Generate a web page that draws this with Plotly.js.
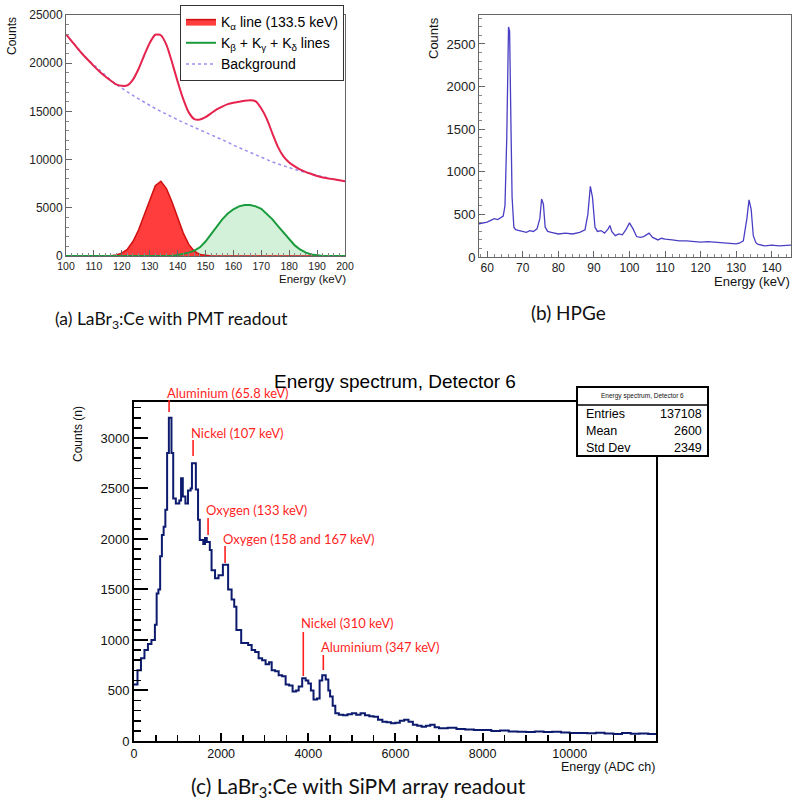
<!DOCTYPE html>
<html><head><meta charset="utf-8">
<script src="https://cdn.plot.ly/plotly-3.0.1.min.js"></script>
<style>html,body{margin:0;padding:0;background:#fff}#chart{width:796px;height:804px}</style>
</head><body><div id="chart"></div>
<script>
// ---------- Panel (a): LaBr3:Ce with PMT readout ----------
const aEnergy = [100,102,104,106,108,110,112,114,116,118,120,122,124,126,128,130,132,134,136,138,140,142,144,146,148,150,152,154,156,158,160,162,164,166,168,170,172,174,176,178,180,182,184,186,188,190,192,194,196,198,200];
const aTotal = [23000,22300,21600,20900,20300,19700,19150,18650,18200,17800,17650,17700,18300,19400,20800,22100,22950,22900,21900,20100,18100,16300,14900,14200,14150,14400,14800,15200,15500,15750,15900,16000,16100,16150,16050,15300,14200,12700,11300,10300,9700,9300,8950,8700,8500,8300,8150,8050,7950,7850,7750];
const aBackground = [23000,22300,21600,20950,20350,19800,19250,18750,18250,17800,17400,17000,16650,16300,15950,15600,15300,15000,14700,14400,14100,13850,13600,13350,13100,12850,12600,12350,12100,11800,11500,11250,11000,10750,10450,10200,9950,9750,9550,9350,9200,9000,8800,8650,8500,8350,8200,8050,7950,7850,7750];
const aKalpha = [0,0,0,0,0,0,0,0,30,100,300,700,1500,2700,4200,5900,7300,7750,7000,5600,3900,2400,1200,500,150,40,0,0,0,0,0,0,0,0,0,0,0,0,0,0,0,0,0,0,0,0,0,0,0,0,0];
const aKbeta = [0,0,0,0,0,0,0,0,0,0,0,0,0,0,0,0,0,0,0,0,100,200,350,550,900,1500,2300,3100,3800,4400,4850,5150,5300,5300,5150,4900,4400,3800,3100,2400,1700,1100,650,350,150,50,0,0,0,0,0];
const aNames = ['K<sub>α</sub> line (133.5 keV)', 'K<sub>β</sub> + K<sub>γ</sub> + K<sub>δ</sub> lines', 'Background'];

// ---------- Panel (b): HPGe ----------
const bEnergy = [57.7,59,60,61,62,63,64,64.5,65,65.5,66,66.3,66.7,67,67.5,68,69,70,71,72,73,74,74.8,75.3,75.8,76.3,77,78,80,82,84,86,87.5,88.3,89,89.6,90.3,91,92,93,94,94.5,95,96,97,98,99,100,101,102,103,104,105.5,106.5,108,109,110,112,114,116,118,120,122,124,126,128,130,131,132,133,133.6,134.2,134.8,135.5,136,138,140,142,144,145.4];
const bCounts = [390,400,410,430,450,440,470,480,600,1400,2700,2650,1500,700,350,320,310,300,290,310,300,330,450,680,620,350,300,290,270,280,270,290,320,500,830,700,350,300,310,280,330,370,300,250,270,260,320,400,330,240,230,240,280,230,200,220,210,200,190,190,180,175,180,175,165,160,155,165,190,450,670,560,250,170,150,130,140,130,135,140];

// ---------- Panel (c): LaBr3:Ce with SiPM array readout ----------
const cChannel = [0,80,160,240,320,400,480,520,560,600,640,680,720,760,800,860,900,960,1040,1080,1120,1180,1240,1300,1330,1420,1470,1510,1590,1630,1670,1740,1780,1860,1940,2040,2160,2240,2300,2350,2460,2620,2700,2780,2860,2940,3020,3100,3160,3240,3320,3400,3480,3560,3640,3720,3780,3860,3940,4000,4060,4120,4200,4260,4320,4400,4460,4500,4560,4620,4700,4800,4900,5000,5100,5200,5300,5400,5500,5600,5700,5800,5900,6000,6100,6200,6300,6400,6500,6600,6700,6800,6900,7000,7200,7400,7600,7800,8000,8200,8400,8600,8800,9000,9200,9400,9600,9800,10000,10200,10400,10600,10800,11000,11200,11400,11600,11800,12000];
const cCounts = [560,700,820,900,960,1000,1150,1460,1500,1830,2040,2120,2290,2850,3200,2850,2400,2350,2380,2600,2420,2350,2480,2500,2750,2490,2190,1990,1950,2010,1970,1890,1690,1610,1640,1745,1500,1400,1330,1100,970,950,900,880,820,800,760,780,700,690,650,640,560,550,490,500,540,620,600,570,500,410,420,600,650,610,500,440,350,275,260,255,265,275,260,275,255,245,240,210,190,185,175,180,200,210,190,160,150,140,150,160,135,125,130,120,115,110,108,100,105,95,92,90,95,88,92,85,80,78,76,82,75,70,78,72,75,70,72];
const cPeakNames = ['Aluminium (65.8 keV)','Nickel (107 keV)','Oxygen (133 keV)','Oxygen (158 and 167 keV)','Nickel (310 keV)','Aluminium (347 keV)'];
const cPeakChannels = [805,1356,1700,2090,3885,4345];
const statsLabels = ['Entries','Mean','Std Dev'];
const statsValues = ['137108','2600','2349'];
const captions = ['(a) LaBr<sub>3</sub>:Ce with PMT readout','(b) HPGe','(c) LaBr<sub>3</sub>:Ce with SiPM array readout'];

// ---------- layout helpers (positions in pixels) ----------
const W = 796, H = 804;
const PX = x => x / W;
const PY = y => 1 - y / H;
const ARIAL = 'Liberation Sans, Arial, sans-serif';
const CAL = 'Lato, Open Sans, sans-serif';
// label text y, tick top, tick bottom (px) for each peak label
const peakLabelY = [393,433,510,539,623,647];
const peakTickTop = [400,440,518,546,632,655];
const peakTickBot = [412,456,535,563,676,670];

const traces = [
  {x: aEnergy, y: aKbeta, xaxis:'x', yaxis:'y', type:'scatter', mode:'lines', fill:'tozeroy',
   fillcolor:'rgba(200,238,206,0.8)', line:{width:0, color:'#1a9b3c'}, showlegend:false, hoverinfo:'skip'},
  {x: aEnergy, y: aKalpha, xaxis:'x', yaxis:'y', type:'scatter', mode:'lines', fill:'tozeroy',
   fillcolor:'rgba(255,40,40,0.9)', line:{width:1.5, color:'#d01010'}, name:aNames[0], legendrank:1},
  {x: aEnergy, y: aKbeta, xaxis:'x', yaxis:'y', type:'scatter', mode:'lines',
   line:{width:2, color:'#1a9b3c'}, name:aNames[1], legendrank:2},
  {x: aEnergy, y: aBackground, xaxis:'x', yaxis:'y', type:'scatter', mode:'lines',
   line:{width:1.5, color:'#9a8ff0', dash:'dot'}, name:aNames[2], legendrank:3},
  {x: aEnergy, y: aTotal, xaxis:'x', yaxis:'y', type:'scatter', mode:'lines',
   line:{width:2, color:'#e5234d', shape:'spline', smoothing:0.6}, showlegend:false},
  {x: bEnergy, y: bCounts, xaxis:'x2', yaxis:'y2', type:'scatter', mode:'lines',
   line:{width:1.3, color:'#4a3fc4'}, showlegend:false},
  {x: cChannel, y: cCounts, xaxis:'x3', yaxis:'y3', type:'scatter', mode:'lines',
   line:{width:2, color:'#0d1b6e', shape:'hv'}, showlegend:false}
];

function ax(extra) {
  return Object.assign({
    showgrid:false, zeroline:false, showline:true, mirror:true, ticks:'inside',
    exponentformat:'none', tickformat:'d', fixedrange:true
  }, extra);
}

const annotations = [];
const shapes = [];

// axis titles, ROOT style
annotations.push({xref:'paper', yref:'paper', x:PX(12), y:PY(15), text:'Counts', textangle:-90,
  xanchor:'center', yanchor:'top', showarrow:false, font:{family:ARIAL, size:12, color:'#111'}});
annotations.push({xref:'paper', yref:'paper', x:PX(348), y:PY(271), text:'Energy (keV)',
  xanchor:'right', yanchor:'top', showarrow:false, font:{family:ARIAL, size:11.5, color:'#111'}});
annotations.push({xref:'paper', yref:'paper', x:PX(433), y:PY(15), text:'Counts', textangle:-90,
  xanchor:'center', yanchor:'top', showarrow:false, font:{family:ARIAL, size:13, color:'#111'}});
annotations.push({xref:'paper', yref:'paper', x:PX(792), y:PY(272), text:'Energy (keV)',
  xanchor:'right', yanchor:'top', showarrow:false, font:{family:ARIAL, size:13, color:'#111'}});
annotations.push({xref:'paper', yref:'paper', x:PX(78), y:PY(404), text:'Counts (n)', textangle:-90,
  xanchor:'center', yanchor:'top', showarrow:false, font:{family:ARIAL, size:12, color:'#111'}});
annotations.push({xref:'paper', yref:'paper', x:PX(657), y:PY(758), text:'Energy (ADC ch)',
  xanchor:'right', yanchor:'top', showarrow:false, font:{family:ARIAL, size:12.5, color:'#111'}});

// captions
annotations.push({xref:'paper', yref:'paper', x:PX(171), y:PY(320), text:captions[0],
  xanchor:'center', yanchor:'middle', showarrow:false, font:{family:CAL, size:17.5, color:'#111'}});
annotations.push({xref:'paper', yref:'paper', x:PX(568), y:PY(312), text:captions[1],
  xanchor:'center', yanchor:'middle', showarrow:false, font:{family:CAL, size:19, color:'#111'}});
annotations.push({xref:'paper', yref:'paper', x:PX(358), y:PY(787), text:captions[2],
  xanchor:'center', yanchor:'middle', showarrow:false, font:{family:CAL, size:21, color:'#111'}});

// peak labels (c)
cPeakNames.forEach((name, i) => {
  annotations.push({xref:'x3', yref:'paper', x:cPeakChannels[i], y:PY(peakLabelY[i]), text:name,
    xanchor:'left', yanchor:'middle', xshift:-4, showarrow:false,
    font:{family:CAL, size:13, color:'#ff1f1f'}});
  shapes.push({type:'line', xref:'x3', yref:'paper', x0:cPeakChannels[i], x1:cPeakChannels[i],
    y0:PY(peakTickTop[i]), y1:PY(peakTickBot[i]), line:{color:'#ff1f1f', width:1.6}});
});

// stats box (c)
shapes.push({type:'rect', xref:'paper', yref:'paper', x0:PX(577), x1:PX(708), y0:PY(387), y1:PY(456),
  fillcolor:'#fff', line:{color:'#000', width:2}, layer:'above'});
shapes.push({type:'line', xref:'paper', yref:'paper', x0:PX(577), x1:PX(708), y0:PY(405), y1:PY(405),
  line:{color:'#000', width:1.5}, layer:'above'});
annotations.push({xref:'paper', yref:'paper', x:PX(642), y:PY(396), text:'Energy spectrum, Detector 6',
  xanchor:'center', yanchor:'middle', showarrow:false, font:{family:ARIAL, size:6.5, color:'#111'}});
statsLabels.forEach((lab, i) => {
  const yy = PY(414 + i * 17);
  annotations.push({xref:'paper', yref:'paper', x:PX(584), y:yy, text:lab, xanchor:'left', yanchor:'middle',
    showarrow:false, font:{family:ARIAL, size:12.5, color:'#000'}});
  annotations.push({xref:'paper', yref:'paper', x:PX(704), y:yy, text:statsValues[i], xanchor:'right', yanchor:'middle',
    showarrow:false, font:{family:ARIAL, size:12.5, color:'#000'}});
});

const layout = {
  width:W, height:H, autosize:false,
  margin:{l:0, r:0, t:0, b:0, pad:0},
  paper_bgcolor:'#fff', plot_bgcolor:'#fff',
  title:{text:'Energy spectrum, Detector 6', x:PX(395), y:PY(381), xanchor:'center', yanchor:'middle',
    xref:'paper', yref:'container', font:{family:ARIAL, size:19, color:'#000'}},
  showlegend:true,
  legend:{x:PX(180), y:PY(5), xanchor:'left', yanchor:'top', bgcolor:'#fff', bordercolor:'#333', borderwidth:1,
    font:{family:ARIAL, size:14, color:'#000'}, tracegroupgap:0, itemwidth:30, traceorder:'normal'},
  xaxis: ax({domain:[PX(66), PX(345)], range:[100,200], anchor:'y', tick0:100, dtick:10, ticklen:6,
    linecolor:'#666', linewidth:1, tickcolor:'#666', tickfont:{family:ARIAL, size:10.5, color:'#222'},
    minor:{dtick:2, ticks:'inside', ticklen:3, tickcolor:'#888'}}),
  yaxis: ax({domain:[PY(256), PY(15)], range:[0,25000], anchor:'x', dtick:5000, ticklen:6,
    linecolor:'#666', linewidth:1, tickcolor:'#666', tickfont:{family:ARIAL, size:12, color:'#222'},
    minor:{dtick:1000, ticks:'inside', ticklen:3, tickcolor:'#888'}}),
  xaxis2: ax({domain:[PX(479), PX(791)], range:[57.7,145.4], anchor:'y2', tick0:0, dtick:10, ticklen:6,
    linecolor:'#666', linewidth:1, tickcolor:'#666', tickfont:{family:ARIAL, size:12, color:'#222'},
    minor:{dtick:2, ticks:'inside', ticklen:3, tickcolor:'#888'}}),
  yaxis2: ax({domain:[PY(257), PY(15)], range:[0,2840], anchor:'x2', dtick:500, ticklen:6,
    linecolor:'#666', linewidth:1, tickcolor:'#666', tickfont:{family:ARIAL, size:13, color:'#222'},
    minor:{dtick:100, ticks:'inside', ticklen:3, tickcolor:'#888'}}),
  xaxis3: ax({domain:[PX(134), PX(656)], range:[0,11980], anchor:'y3', dtick:2000, ticklen:8, tickwidth:2,
    linecolor:'#000', linewidth:2, tickcolor:'#000', tickfont:{family:ARIAL, size:12.5, color:'#111'},
    minor:{dtick:500, ticks:'inside', ticklen:6, tickwidth:1.5, tickcolor:'#000'}}),
  yaxis3: ax({domain:[PY(741), PY(402)], range:[0,3356], anchor:'x3', dtick:500, ticklen:14, tickwidth:2,
    linecolor:'#000', linewidth:2, tickcolor:'#000', tickfont:{family:ARIAL, size:13, color:'#111'},
    minor:{dtick:100, ticks:'inside', ticklen:7, tickwidth:1.5, tickcolor:'#000'}}),
  annotations, shapes
};

Plotly.newPlot('chart', traces, layout, {staticPlot:true, displayModeBar:false});
</script></body></html>
